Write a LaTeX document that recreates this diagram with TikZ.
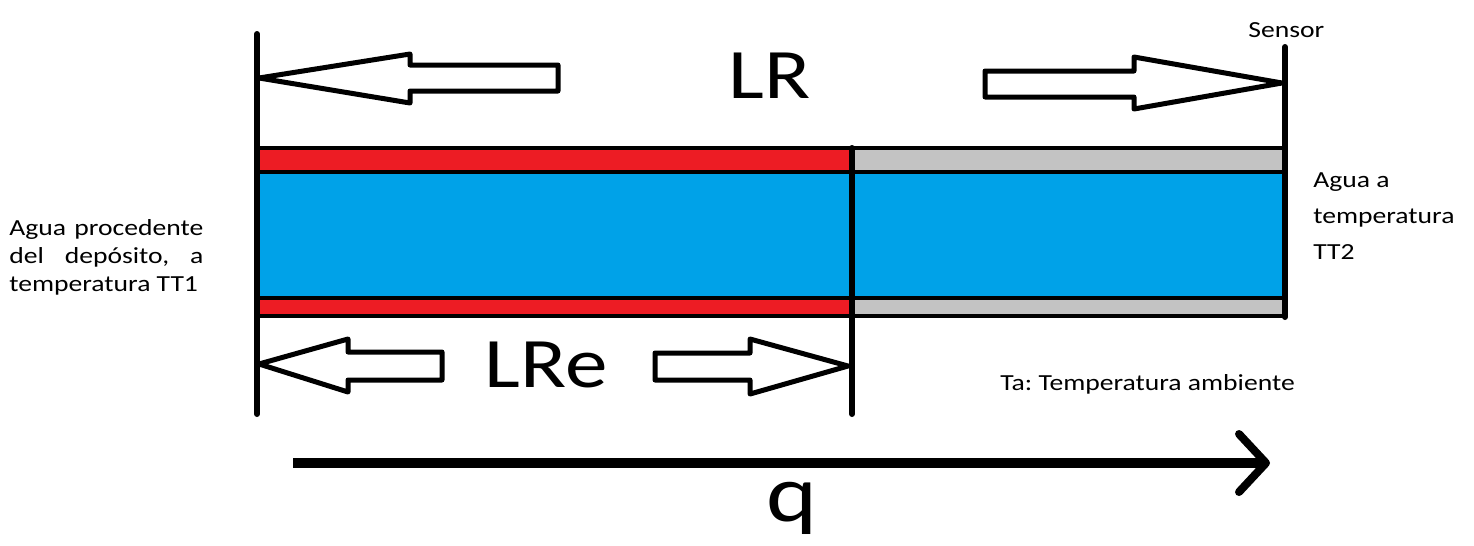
\documentclass[tikz,border=0pt]{standalone}
\usepackage{fontspec}
\setmainfont{Carlito}[FakeStretch=1.2]
\frenchspacing
\definecolor{redband}{HTML}{ED1C24}
\definecolor{greyband}{HTML}{C3C3C3}
\definecolor{water}{HTML}{00A2E8}
\begin{document}
\begin{tikzpicture}[x=0.02cm, y=-0.02cm,
  wall/.style={line width=0.12cm, line cap=round},
  seam/.style={line width=0.08cm},
  blockarrow/.style={draw=black, fill=white, line width=0.1cm, line join=round},
  bigtxt/.style={font=\fontsize{40.4}{48}\selectfont, inner sep=0pt, anchor=base},
  qtxt/.style={font=\fontsize{46}{55}\selectfont, inner sep=0pt, anchor=base},
  smalltxt/.style={font=\fontsize{13.1}{15.9}\selectfont, inner sep=0pt, anchor=base west}]
\useasboundingbox (0,0) rectangle (1474,545);

% pipe: insulated (red) part and bare (grey) part around the water
\fill[redband]  (257,148) rectangle (852,172);
\fill[greyband] (852,148) rectangle (1285,172);
\fill[water]    (257,172) rectangle (1285,298);
\fill[redband]  (257,298) rectangle (852,316);
\fill[greyband] (852,298) rectangle (1285,316);
\foreach \yy in {148,172,298,316}
  \draw[seam] (257,\yy) -- (1285,\yy);

% reference lines
\draw[wall] (257,34) -- (257,414);
\draw[wall] (852,148) -- (852,414);
\draw[wall] (1285,47) -- (1285,317);

% LR dimension arrows
\draw[blockarrow] (259,78) -- (410,54) -- (410,65) -- (558,65) -- (558,91)
  -- (410,91) -- (410,103) -- cycle;
\draw[blockarrow] (1282,83) -- (1134,57) -- (1134,71) -- (985,71) -- (985,97)
  -- (1134,97) -- (1134,109) -- cycle;
\node[bigtxt] (lr) at (770,98) {LR};

% LRe dimension arrows
\draw[blockarrow] (259,364) -- (348,339) -- (348,352) -- (442,352) -- (442,380)
  -- (348,380) -- (348,392) -- cycle;
\draw[blockarrow] (848,366) -- (750,339) -- (750,353) -- (655,353) -- (655,380)
  -- (750,380) -- (750,394) -- cycle;
\node[bigtxt] (lre) at (546,387) {LRe};

% heat flow
\coordinate (qstart) at (293,463);
\coordinate (qend) at (1266,463);
\draw[line width=0.2cm] (qstart) -- (qend);
\draw[line width=0.16cm, line cap=round, line join=round]
  (1239,434) -- (qend) -- (1239,492);
\node[qtxt] (q) at (792,521) {q};

% labels
\node[smalltxt] (sensor) at (1248,37) {Sensor};
\node[smalltxt] (in1) at (9,235) {\makebox[3.88cm][s]{Agua procedente}};
\node[smalltxt] (in2) at (9,263) {\makebox[3.88cm][s]{del depósito, a}};
\node[smalltxt] (in3) at (9,291) {temperatura TT1};
\node[smalltxt] (out1) at (1313,187) {Agua a};
\node[smalltxt] (out2) at (1313,223) {temperatura};
\node[smalltxt] (out3) at (1313,259) {TT2};
\node[smalltxt] (amb) at (1000,390) {Ta: Temperatura ambiente};
\end{tikzpicture}
\end{document}
